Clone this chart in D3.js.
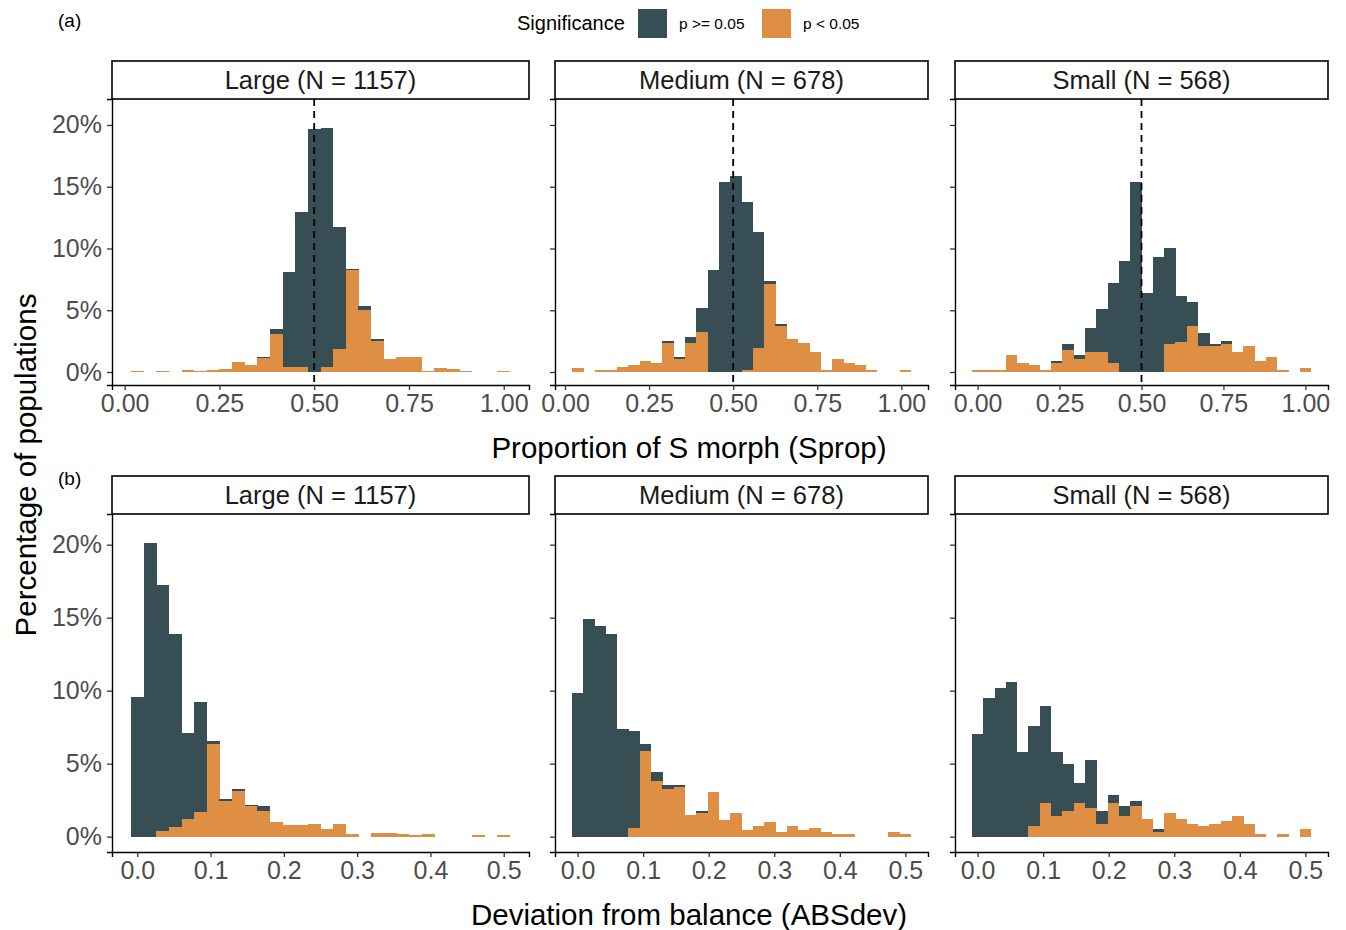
<!DOCTYPE html>
<html>
<head>
<meta charset="utf-8">
<script src="https://cdn.jsdelivr.net/npm/d3@7"></script>
<style>
  body { margin: 0; background: #fff; }
  text { font-family: "Liberation Sans", Arial, sans-serif; }
</style>
</head>
<body>
<svg id="chart" width="1346" height="930"></svg>
<script>
// facet labels
const facets = ['Large (N = 1157)', 'Medium (N = 678)', 'Small (N = 568)'];
const groups = ['p >= 0.05', 'p < 0.05'];

// first and last bin centre of each 30-bin histogram
const spropRange = [[0.0333, 1.0], [0.0375, 1.012], [0, 1.0]];
const absdevRange = [[0, 0.5], [0, 0.5], [0, 0.5]];

// (a) Sprop, % of populations per bin
const spropSig = [
  [0.09, 0, 0.09, 0, 0.17, 0.09, 0.17, 0.26, 0.78, 0.6, 1.1, 3.1, 0.43, 0.43, 0, 0.43, 1.85, 8.26, 5.0, 2.5, 1.03, 1.25, 1.25, 0.09, 0.35, 0.26, 0.09, 0, 0, 0.09],
  [0.29, 0, 0.15, 0.15, 0.44, 0.59, 0.88, 0.74, 2.36, 1.03, 2.36, 3.24, 0, 0, 0, 0.15, 1.92, 7.1, 3.7, 2.65, 2.36, 1.62, 0.15, 1.03, 0.74, 0.59, 0.15, 0, 0, 0.15],
  [0.18, 0.18, 0.18, 1.41, 0.7, 0.53, 0.18, 0.7, 1.76, 1.06, 1.59, 1.59, 0.7, 0, 0, 0, 0, 2.29, 2.46, 3.7, 2.1, 2.1, 2.29, 1.59, 2.11, 0.88, 1.23, 0.18, 0, 0.35]
];
const spropNonSig = [
  [0, 0, 0, 0, 0, 0, 0, 0, 0, 0, 0.1, 0.4, 7.7, 12.5, 19.7, 19.3, 9.85, 0.09, 0.35, 0.17, 0, 0, 0, 0, 0, 0, 0, 0, 0, 0],
  [0, 0, 0, 0, 0, 0, 0, 0, 0.15, 0.15, 0.44, 1.92, 8.26, 15.4, 15.9, 13.6, 9.4, 0.29, 0.15, 0, 0, 0, 0, 0, 0, 0, 0, 0, 0, 0],
  [0, 0, 0, 0, 0, 0, 0, 0.18, 0.53, 0.35, 1.94, 3.52, 6.5, 9.0, 15.35, 6.36, 9.35, 7.75, 3.7, 2.0, 1.06, 0.18, 0.18, 0, 0, 0, 0, 0, 0, 0]
];

// (b) ABSdev, % of populations per bin
const absdevSig = [
  [0, 0, 0.41, 0.66, 1.19, 1.71, 6.37, 2.42, 3.1, 2.08, 1.78, 1.03, 0.78, 0.78, 0.87, 0.52, 0.87, 0.17, 0, 0.26, 0.26, 0.17, 0.09, 0.17, 0, 0, 0, 0.09, 0, 0.09],
  [0, 0, 0, 0, 0, 0.57, 5.9, 3.84, 3.26, 3.38, 1.5, 1.62, 3.06, 1.16, 1.6, 0.44, 0.75, 1.03, 0.3, 0.75, 0.44, 0.59, 0.3, 0.15, 0.15, 0, 0, 0, 0.3, 0.15],
  [0, 0, 0, 0, 0, 0.7, 2.28, 1.41, 1.76, 2.28, 1.94, 0.88, 2.29, 1.41, 2.11, 1.23, 0.35, 1.59, 1.23, 0.88, 0.7, 0.88, 1.06, 1.41, 0.88, 0.18, 0, 0.18, 0, 0.53]
];
const absdevNonSig = [
  [9.59, 20.1, 16.8, 13.2, 5.9, 7.5, 0.2, 0.17, 0.17, 0.09, 0.3, 0, 0, 0, 0, 0, 0, 0, 0, 0, 0, 0, 0, 0, 0, 0, 0, 0, 0, 0],
  [9.86, 14.9, 14.4, 13.86, 7.37, 6.67, 0.42, 0.56, 0.28, 0.15, 0, 0.15, 0, 0, 0, 0, 0, 0, 0, 0, 0, 0, 0, 0, 0, 0, 0, 0, 0, 0],
  [7.03, 9.5, 10.2, 10.57, 5.78, 6.86, 6.69, 4.37, 3.24, 1.4, 3.33, 0.88, 0.53, 0.7, 0.35, 0, 0.18, 0, 0, 0, 0, 0, 0, 0, 0, 0, 0, 0, 0, 0]
];

const yTicks = [0, 5, 10, 15, 20];
const spropTicks = [0, 0.25, 0.5, 0.75, 1.0];
const absdevTicks = [0, 0.1, 0.2, 0.3, 0.4, 0.5];
const yTop = 21.05;

const colors = { 'p >= 0.05': '#374E55', 'p < 0.05': '#DF8F44' };

const svg = d3.select('#chart');

// layout
const cols = [[112, 529], [555, 928], [955, 1328]];
const rows = [
  { label: '(a)', labelY: 20, strip: [61, 99], panel: [99, 385], range: spropRange, sig: spropSig, non: spropNonSig,
    ticks: spropTicks, fmt: d3.format('.2f'), title: 'Proportion of S morph (Sprop)', titleY: 447, vline: 0.5 },
  { label: '(b)', labelY: 478, strip: [476, 514], panel: [514, 852], range: absdevRange, sig: absdevSig, non: absdevNonSig,
    ticks: absdevTicks, fmt: d3.format('.1f'), title: 'Deviation from balance (ABSdev)', titleY: 914, vline: null }
];

function drawPanel(row, ci) {
  const [x0, x1] = cols[ci];
  const [c0, c1] = row.range[ci];
  const w = (c1 - c0) / 29;
  const lo = c0 - w / 2, hi = c1 + w / 2, R = hi - lo;
  const x = d3.scaleLinear().domain([lo - 0.05 * R, hi + 0.05 * R]).range([x0, x1]);
  const y = d3.scaleLinear().domain([-0.05 * yTop, 1.05 * yTop]).range([row.panel[1], row.panel[0]]);

  const bins = row.sig[ci].map((s, i) => ({
    c: c0 + i * w, sig: s, non: row.non[ci][i]
  }));

  const g = svg.append('g');

  // stacked bars: p < 0.05 at the bottom, p >= 0.05 on top
  const segs = [];
  bins.forEach(b => {
    if (b.sig > 0) segs.push({ c: b.c, y0: 0, y1: b.sig, grp: 'p < 0.05' });
    if (b.non > 0) segs.push({ c: b.c, y0: b.sig, y1: b.sig + b.non, grp: 'p >= 0.05' });
  });
  g.selectAll('rect.bar')
    .data(segs)
    .enter()
    .append('rect')
    .attr('class', 'bar')
    .attr('x', d => x(d.c - w / 2))
    .attr('width', d => x(d.c + w / 2) - x(d.c - w / 2) + 0.3)
    .attr('y', d => y(d.y1))
    .attr('height', d => y(d.y0) - y(d.y1))
    .attr('fill', d => colors[d.grp])
    .attr('shape-rendering', 'crispEdges');

  if (row.vline !== null) {
    g.append('line')
      .attr('x1', x(row.vline)).attr('x2', x(row.vline))
      .attr('y1', row.panel[0]).attr('y2', row.panel[1])
      .attr('stroke', '#000')
      .attr('stroke-width', 1.8)
      .attr('stroke-dasharray', '7,5');
  }

  // axes
  const xAxis = d3.axisBottom(x).tickValues(row.ticks).tickFormat(row.fmt).tickSize(5).tickPadding(4);
  const ax = g.append('g').attr('transform', `translate(0,${row.panel[1]})`).call(xAxis);
  ax.select('.domain').attr('stroke', '#000').attr('stroke-width', 1.4);
  ax.selectAll('.tick line').attr('stroke', '#333').attr('stroke-width', 1.3);
  ax.selectAll('.tick text').attr('fill', '#4D4D4D').style('font-size', '25px')
    .style('font-family', '"Liberation Sans", Arial, sans-serif');

  const yAxis = d3.axisLeft(y).tickValues(yTicks).tickFormat(d => ci === 0 ? d + '%' : '').tickSize(5).tickPadding(5);
  const ay = g.append('g').attr('transform', `translate(${x0},0)`).call(yAxis);
  ay.select('.domain').attr('stroke', '#000').attr('stroke-width', 1.4);
  ay.selectAll('.tick line').attr('stroke', '#333').attr('stroke-width', 1.3);
  ay.selectAll('.tick text').attr('fill', '#4D4D4D').style('font-size', '25px')
    .style('font-family', '"Liberation Sans", Arial, sans-serif');

  // strip
  g.append('rect')
    .attr('x', x0).attr('y', row.strip[0])
    .attr('width', x1 - x0).attr('height', row.strip[1] - row.strip[0])
    .attr('fill', '#fff').attr('stroke', '#000').attr('stroke-width', 1.6);
  g.append('text')
    .attr('x', (x0 + x1) / 2).attr('y', (row.strip[0] + row.strip[1]) / 2)
    .attr('dy', '0.36em')
    .attr('text-anchor', 'middle')
    .style('font-size', '25.5px')
    .attr('fill', '#1A1A1A')
    .text(facets[ci]);
}

rows.forEach(row => {
  facets.forEach((f, ci) => drawPanel(row, ci));
  svg.append('text')
    .attr('x', 689).attr('y', row.titleY).attr('dy', '0.36em')
    .attr('text-anchor', 'middle').style('font-size', '29.5px')
    .text(row.title);
  svg.append('text')
    .attr('x', 58).attr('y', row.labelY).attr('dy', '0.36em')
    .style('font-size', '19px')
    .text(row.label);
});

// y title
svg.append('text')
  .attr('transform', 'translate(25,465) rotate(-90)')
  .attr('dy', '0.36em')
  .attr('text-anchor', 'middle')
  .style('font-size', '29.5px')
  .text('Percentage of populations');

// legend
const legend = svg.append('g');
legend.append('text').attr('x', 517).attr('y', 23).attr('dy', '0.36em')
  .style('font-size', '20px').text('Significance');
const keyX = [638, 762];
groups.forEach((grp, i) => {
  legend.append('rect').attr('x', keyX[i]).attr('y', 9).attr('width', 29).attr('height', 29)
    .attr('fill', colors[grp]);
  legend.append('text').attr('x', keyX[i] + 41).attr('y', 23).attr('dy', '0.36em')
    .style('font-size', '15.5px').text(grp);
});
</script>
</body>
</html>
